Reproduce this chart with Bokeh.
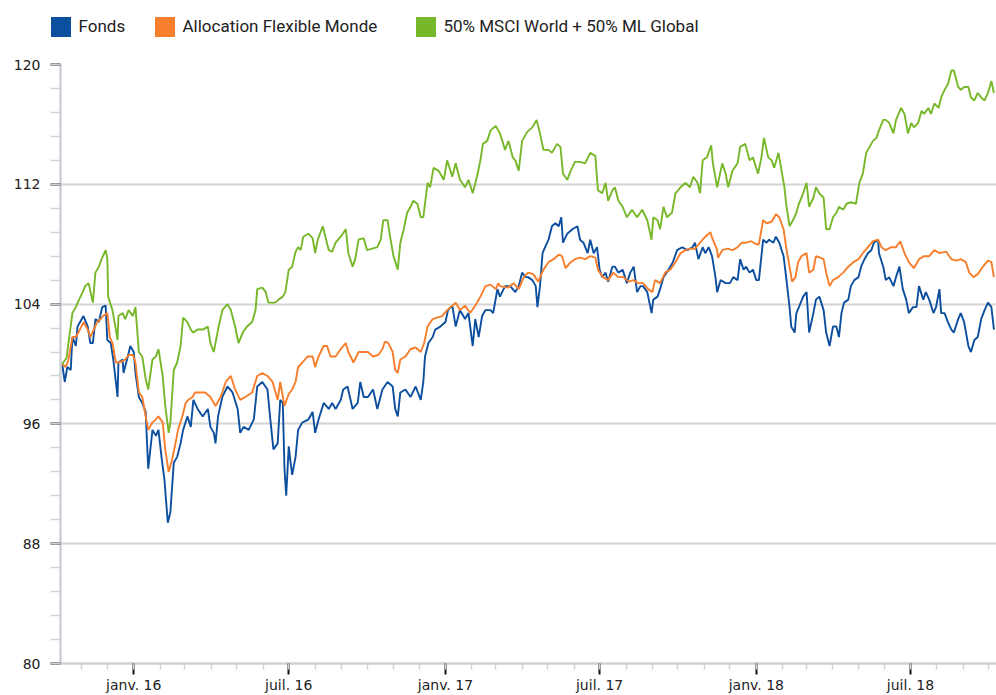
import numpy as np
import pandas as pd
from bokeh.plotting import figure
from bokeh.layouts import column
from bokeh.models import FixedTicker, Range1d, Legend, LegendItem, ColumnDataSource
from bokeh.embed import file_html
from bokeh.resources import INLINE

# ---------------- data ----------------
start_date = "2015-10-07"   # first observation (base 100)

series_names = ["Fonds", "Allocation Flexible Monde", "50% MSCI World + 50% ML Global"]
series_colors = ["#0D4F9F", "#F67E2C", "#77B72A"]

# days since start_date, and index values
fonds_days = [0, 2, 5, 8, 12, 14, 18, 20, 23, 27, 32, 35, 38, 41, 45, 49, 53, 55, 59, 62, 65, 67, 68, 73, 74, 79, 82, 86, 88, 92, 96, 100, 103, 108, 112, 115, 119, 122, 126, 129, 133, 137, 141, 144, 149, 153, 156, 161, 167, 173, 176, 180, 182, 185, 190, 196, 202, 208, 211, 215, 221, 227, 231, 237, 243, 246, 250, 255, 258, 261, 263, 265, 268, 270, 272, 276, 279, 284, 288, 291, 296, 299, 303, 309, 315, 319, 323, 329, 332, 337, 343, 349, 352, 356, 361, 367, 372, 378, 384, 390, 393, 396, 399, 405, 411, 417, 423, 426, 428, 432, 437, 440, 446, 452, 455, 460, 464, 469, 475, 479, 484, 487, 491, 495, 499, 505, 508, 513, 516, 522, 528, 534, 538, 542, 546, 549, 554, 558, 560, 563, 566, 569, 573, 577, 581, 585, 588, 590, 595, 601, 607, 610, 614, 619, 622, 626, 630, 633, 636, 640, 643, 648, 651, 655, 660, 665, 669, 673, 677, 681, 684, 689, 694, 696, 701, 704, 708, 714, 719, 724, 730, 736, 742, 745, 749, 754, 757, 761, 765, 769, 771, 775, 781, 786, 790, 795, 798, 802, 805, 809, 813, 817, 820, 825, 829, 832, 837, 840, 844, 849, 852, 856, 858, 862, 864, 867, 872, 876, 879, 884, 887, 891, 896, 899, 903, 907, 911, 914, 917, 920, 925, 928, 932, 937, 940, 944, 948, 952, 955, 960, 961, 966, 969, 973, 978, 981, 985, 989, 993, 996, 1001, 1005, 1008, 1013, 1016, 1020, 1025, 1028, 1032, 1034, 1038, 1042, 1046, 1049, 1054, 1057, 1061, 1066, 1069, 1073, 1077, 1081, 1085, 1089, 1093, 1096]
fonds_values = [100.0, 100.0, 98.8, 99.8, 99.6, 101.8, 101.2, 102.5, 102.8, 103.2, 102.5, 101.4, 101.4, 103.0, 102.8, 103.8, 103.9, 101.6, 101.4, 100.3, 98.8, 97.8, 100.1, 100.3, 99.4, 100.5, 101.2, 100.8, 99.4, 97.8, 97.4, 96.8, 93.0, 95.6, 95.2, 95.6, 93.6, 92.3, 89.4, 90.1, 93.4, 93.8, 94.7, 95.6, 96.5, 95.8, 97.6, 97.0, 96.5, 97.0, 95.8, 95.4, 94.7, 96.5, 97.8, 98.5, 98.1, 97.0, 95.4, 95.8, 95.6, 96.3, 98.5, 98.8, 98.3, 96.5, 94.3, 94.7, 97.6, 97.4, 93.0, 91.2, 94.5, 93.5, 92.6, 93.8, 95.6, 96.1, 96.2, 96.3, 96.8, 95.4, 96.3, 97.4, 97.0, 97.4, 97.0, 97.6, 98.3, 98.5, 97.0, 97.4, 98.8, 97.8, 97.8, 98.3, 97.0, 98.3, 98.8, 98.5, 97.0, 96.5, 98.1, 98.3, 97.8, 98.5, 97.6, 98.8, 100.5, 101.4, 101.8, 102.3, 102.5, 102.8, 103.6, 103.9, 102.5, 103.6, 103.0, 103.4, 101.2, 103.0, 101.8, 103.2, 103.6, 103.6, 103.4, 105.0, 104.5, 105.2, 105.2, 104.8, 105.2, 106.1, 105.8, 105.8, 105.6, 105.2, 103.8, 105.2, 107.4, 107.8, 108.3, 109.2, 109.4, 109.2, 109.8, 108.1, 108.7, 109.0, 109.2, 108.3, 108.1, 107.4, 108.3, 107.4, 107.8, 106.3, 105.8, 106.1, 105.5, 106.5, 106.5, 106.1, 106.3, 105.4, 106.1, 106.5, 104.8, 105.2, 105.2, 104.8, 103.4, 104.3, 104.5, 105.0, 105.8, 106.3, 106.8, 107.6, 107.8, 107.6, 107.8, 108.1, 107.0, 107.8, 107.4, 107.8, 107.2, 105.8, 104.8, 105.6, 105.4, 105.4, 105.8, 105.6, 107.0, 106.3, 106.5, 106.1, 106.3, 105.6, 105.6, 108.3, 108.1, 108.3, 108.1, 108.5, 108.1, 107.2, 105.8, 103.8, 102.5, 102.1, 103.4, 103.8, 104.5, 104.8, 102.1, 103.4, 104.3, 104.5, 103.6, 102.1, 101.2, 102.5, 102.5, 101.8, 103.4, 104.1, 104.3, 105.2, 105.6, 105.8, 106.5, 107.0, 107.4, 107.6, 108.1, 108.3, 107.4, 106.5, 105.6, 105.8, 105.2, 105.8, 106.5, 105.0, 104.3, 103.4, 103.8, 103.8, 105.2, 104.3, 104.8, 104.3, 103.4, 103.8, 105.0, 103.4, 103.4, 102.8, 102.3, 102.1, 103.0, 103.4, 102.8, 101.2, 100.8, 101.6, 101.8, 103.0, 103.6, 104.1, 103.8, 102.3]

alloc_days = [0, 2, 6, 9, 14, 18, 21, 27, 32, 35, 39, 43, 47, 50, 55, 58, 61, 65, 68, 73, 76, 80, 85, 88, 92, 96, 100, 103, 108, 112, 115, 120, 123, 127, 131, 135, 138, 143, 147, 150, 155, 158, 164, 170, 176, 182, 188, 194, 200, 205, 211, 217, 225, 231, 237, 243, 249, 255, 258, 263, 268, 272, 276, 279, 284, 290, 296, 299, 303, 309, 313, 317, 323, 329, 335, 338, 344, 350, 356, 361, 367, 373, 378, 381, 385, 390, 393, 396, 399, 405, 411, 417, 423, 427, 431, 437, 442, 448, 454, 460, 464, 469, 475, 481, 487, 493, 499, 505, 511, 514, 516, 525, 532, 538, 544, 549, 555, 561, 567, 573, 579, 585, 589, 593, 599, 604, 610, 616, 622, 628, 631, 637, 643, 649, 655, 661, 667, 673, 678, 684, 690, 695, 698, 704, 710, 716, 722, 728, 734, 739, 745, 751, 757, 763, 766, 771, 772, 777, 783, 789, 795, 800, 805, 811, 817, 820, 825, 829, 835, 840, 844, 849, 852, 856, 859, 863, 866, 870, 876, 879, 884, 887, 892, 896, 899, 903, 907, 913, 919, 925, 931, 937, 942, 948, 954, 960, 964, 969, 975, 981, 986, 991, 996, 1002, 1008, 1014, 1020, 1026, 1032, 1040, 1046, 1052, 1057, 1063, 1067, 1072, 1077, 1083, 1089, 1093, 1096]
alloc_values = [100.0, 100.0, 99.8, 100.2, 101.8, 101.8, 102.1, 102.8, 102.3, 101.8, 102.3, 102.8, 103.0, 103.2, 103.4, 101.8, 101.4, 100.1, 100.1, 100.2, 100.3, 100.6, 100.6, 100.1, 98.1, 97.8, 96.5, 95.6, 96.1, 96.3, 96.5, 96.1, 94.3, 92.8, 93.6, 94.7, 95.6, 96.5, 97.4, 97.6, 97.8, 98.1, 98.1, 98.1, 97.8, 97.2, 97.8, 98.8, 99.2, 98.3, 97.6, 97.8, 98.1, 99.2, 99.4, 99.2, 98.8, 97.6, 98.8, 97.2, 98.0, 98.3, 98.8, 99.8, 100.1, 100.5, 100.5, 99.8, 100.5, 101.2, 101.2, 100.5, 100.5, 101.0, 101.4, 100.8, 100.1, 100.8, 100.8, 100.8, 100.5, 100.6, 101.0, 101.5, 101.4, 100.8, 99.6, 99.4, 100.3, 100.5, 101.0, 101.1, 100.8, 101.4, 102.5, 103.0, 103.1, 103.2, 103.6, 103.9, 104.1, 103.6, 103.9, 103.4, 103.9, 104.5, 105.2, 105.3, 105.0, 105.4, 105.2, 105.1, 105.4, 105.0, 105.8, 106.1, 106.0, 105.5, 106.3, 106.8, 107.0, 107.3, 107.2, 106.4, 106.8, 107.0, 107.1, 107.0, 107.2, 107.1, 106.3, 105.8, 105.6, 106.1, 105.8, 105.8, 105.5, 105.6, 105.4, 105.4, 105.0, 104.8, 105.6, 105.4, 106.1, 106.3, 106.8, 107.4, 107.6, 107.7, 107.7, 108.1, 108.5, 108.8, 108.3, 107.6, 107.1, 107.6, 107.7, 107.6, 107.8, 108.1, 108.1, 108.2, 108.0, 108.0, 109.6, 109.4, 109.5, 110.0, 109.8, 109.0, 107.8, 106.5, 105.5, 105.8, 106.8, 107.2, 107.4, 106.1, 106.3, 107.2, 107.1, 107.0, 106.1, 105.2, 105.6, 105.8, 106.1, 106.5, 106.8, 107.0, 107.4, 107.8, 108.2, 108.3, 107.8, 107.6, 107.8, 107.8, 108.2, 107.4, 106.8, 106.4, 107.0, 107.2, 107.2, 107.6, 107.4, 107.5, 107.0, 106.9, 107.0, 106.8, 106.1, 105.8, 106.0, 106.5, 106.9, 106.8, 105.8]

bench_days = [0, 2, 7, 14, 18, 21, 26, 29, 33, 38, 41, 45, 49, 53, 55, 56, 61, 65, 67, 68, 73, 76, 80, 85, 88, 92, 96, 100, 103, 108, 112, 115, 120, 123, 127, 129, 133, 137, 141, 144, 149, 153, 156, 161, 167, 173, 176, 180, 185, 190, 196, 200, 205, 209, 214, 219, 225, 229, 231, 237, 241, 244, 249, 252, 256, 261, 264, 268, 272, 276, 279, 282, 285, 291, 296, 299, 302, 308, 311, 315, 319, 323, 329, 335, 338, 343, 346, 350, 356, 360, 366, 372, 376, 379, 384, 387, 391, 396, 399, 403, 407, 411, 414, 419, 423, 426, 431, 434, 438, 444, 450, 454, 460, 464, 469, 475, 479, 484, 489, 493, 496, 501, 505, 511, 516, 522, 526, 531, 534, 538, 542, 548, 554, 559, 563, 567, 573, 577, 583, 587, 590, 595, 599, 604, 610, 616, 622, 628, 631, 636, 640, 643, 648, 651, 655, 660, 665, 671, 677, 683, 689, 694, 696, 701, 704, 708, 712, 718, 722, 728, 734, 739, 743, 748, 751, 754, 759, 764, 766, 771, 777, 781, 784, 789, 795, 798, 804, 809, 813, 819, 823, 826, 831, 835, 838, 843, 846, 850, 852, 856, 860, 864, 867, 872, 876, 879, 884, 887, 891, 896, 899, 903, 907, 911, 914, 919, 923, 928, 934, 938, 942, 946, 950, 954, 958, 961, 966, 969, 973, 978, 981, 987, 991, 995, 999, 1002, 1007, 1011, 1014, 1019, 1022, 1026, 1031, 1034, 1038, 1042, 1046, 1049, 1054, 1057, 1061, 1066, 1069, 1073, 1077, 1081, 1085, 1089, 1093, 1096]
bench_values = [100.0, 100.0, 100.4, 103.4, 103.8, 104.2, 104.8, 105.2, 105.4, 104.1, 106.1, 106.5, 107.1, 107.6, 107.0, 104.5, 103.6, 102.3, 101.6, 103.2, 103.4, 103.0, 103.6, 103.2, 103.8, 100.8, 100.5, 99.0, 98.3, 100.3, 100.5, 101.0, 99.2, 97.2, 95.4, 96.1, 99.6, 100.1, 101.2, 103.1, 102.8, 102.3, 102.1, 102.3, 102.3, 102.5, 101.4, 100.8, 102.3, 103.6, 104.0, 103.6, 102.5, 101.4, 102.1, 102.5, 102.8, 103.6, 105.0, 105.1, 104.8, 104.1, 104.1, 104.1, 104.3, 104.5, 104.8, 106.3, 106.5, 107.5, 107.8, 107.6, 108.5, 108.7, 108.4, 107.4, 108.3, 109.2, 108.5, 107.6, 107.5, 108.1, 108.5, 109.0, 107.4, 106.5, 107.0, 108.3, 108.4, 107.6, 107.7, 107.8, 108.3, 109.6, 109.6, 108.5, 107.2, 106.3, 108.1, 109.0, 110.1, 110.5, 110.9, 110.7, 109.8, 109.8, 112.1, 111.8, 113.1, 112.9, 112.3, 113.6, 112.5, 113.4, 112.3, 111.8, 112.3, 111.4, 112.5, 113.6, 114.7, 114.9, 115.6, 115.9, 115.4, 114.3, 114.9, 113.8, 113.6, 112.9, 114.9, 115.5, 115.8, 116.3, 115.4, 114.3, 114.3, 114.1, 114.7, 114.5, 112.7, 112.3, 112.9, 113.5, 113.5, 113.4, 114.1, 113.9, 111.6, 111.4, 112.1, 110.9, 111.6, 111.8, 110.9, 110.5, 109.8, 110.3, 109.8, 110.3, 109.6, 108.3, 109.8, 109.6, 109.0, 110.5, 109.8, 110.1, 111.4, 111.8, 112.1, 111.8, 112.5, 112.1, 111.4, 113.6, 113.8, 114.6, 113.4, 111.8, 113.4, 112.7, 111.8, 112.9, 113.4, 114.5, 114.7, 113.6, 113.8, 112.7, 113.8, 115.1, 113.8, 113.6, 113.1, 114.1, 113.1, 111.8, 110.7, 109.2, 109.6, 110.1, 110.7, 111.4, 112.1, 110.5, 111.1, 111.8, 111.4, 111.1, 109.0, 109.0, 109.8, 110.1, 110.5, 110.3, 110.7, 110.8, 110.7, 112.1, 112.7, 114.1, 114.5, 114.9, 115.1, 115.6, 116.3, 116.3, 116.1, 115.4, 116.3, 117.1, 116.7, 115.4, 116.1, 115.8, 116.1, 116.9, 116.7, 117.1, 116.7, 117.4, 117.1, 117.8, 118.3, 118.7, 119.6, 119.6, 118.5, 118.3, 118.5, 118.5, 117.8, 117.6, 118.1, 117.8, 117.6, 118.1, 118.9, 118.1]

y_ticks = [80, 88, 96, 104, 112, 120]
x_tick_dates = ["2016-01-01", "2016-07-01", "2017-01-01", "2017-07-01", "2018-01-01", "2018-07-01"]
x_tick_labels = ["janv. 16", "juil. 16", "janv. 17", "juil. 17", "janv. 18", "juil. 18"]

# ---------------- helpers ----------------
start = pd.Timestamp(start_date)

def to_dates(days):
    return start + pd.to_timedelta(days, unit="D")

def to_ms(ts):
    return float(pd.Timestamp(ts).value // 10**6)

# ---------------- legend strip ----------------
leg_fig = figure(width=996, height=56, output_backend="svg", toolbar_location=None,
                 x_axis_location=None, y_axis_location=None,
                 min_border_left=0, min_border_right=0, min_border_top=0, min_border_bottom=0,
                 x_range=Range1d(0, 1), y_range=Range1d(0, 1))
leg_fig.frame_align = False
leg_fig.outline_line_color = None
leg_fig.xgrid.visible = False
leg_fig.ygrid.visible = False
leg_fig.border_fill_color = "white"
leg_fig.background_fill_color = "white"

legend_x = [47.5, 151.5, 412.5]
for name, col, lx in zip(series_names, series_colors, legend_x):
    # legend-only swatch renderer (no visible data point)
    src = ColumnDataSource(dict(left=[np.nan], right=[np.nan], top=[np.nan], bottom=[np.nan]))
    r = leg_fig.quad(left="left", right="right", top="top", bottom="bottom", source=src,
                     fill_color=col, line_color=None)
    leg = Legend(items=[LegendItem(label=name, renderers=[r])],
                 location=(lx, 17.5), orientation="horizontal",
                 glyph_width=25, glyph_height=25, label_standoff=6,
                 label_height=25, padding=0, margin=0, spacing=0,
                 border_line_color=None, background_fill_alpha=0,
                 label_text_font="Roboto", label_text_font_size="17px",
                 label_text_color="#222222")
    leg_fig.add_layout(leg, "center")

# ---------------- main chart ----------------
p = figure(width=996, height=639, x_axis_type="datetime",
           output_backend="svg", toolbar_location=None,
           min_border_left=60, min_border_right=0,
           min_border_top=8, min_border_bottom=30)
p.frame_align = False
p.x_range = Range1d(start, start + pd.Timedelta(days=1099))
p.y_range = Range1d(80, 120)
p.outline_line_color = None
p.background_fill_color = "white"
p.border_fill_color = "white"

# y axis
p.yaxis.ticker = FixedTicker(ticks=y_ticks, minor_ticks=list(np.arange(80, 120.001, 1.6)))
p.yaxis.axis_line_color = "#cdd1d6"
p.yaxis.axis_line_width = 2.5
p.yaxis.major_tick_line_color = "#111111"
p.yaxis.major_tick_line_width = 2
p.yaxis.major_tick_out = 10
p.yaxis.major_tick_in = 0
p.yaxis.minor_tick_line_color = "#cfd3d8"
p.yaxis.minor_tick_line_width = 1.5
p.yaxis.minor_tick_out = 10
p.yaxis.minor_tick_in = 0
p.yaxis.major_label_standoff = 10
p.yaxis.major_label_text_font = "DejaVu Sans"
p.yaxis.major_label_text_font_size = "14px"
p.yaxis.major_label_text_color = "#222222"

# x axis
major_ms = [to_ms(d) for d in x_tick_dates]
minor_ms = [to_ms(d) for d in pd.date_range("2015-11-01", "2018-10-01", freq="MS")]
p.xaxis.ticker = FixedTicker(ticks=major_ms, minor_ticks=minor_ms)
p.xaxis.major_label_overrides = {m: lab for m, lab in zip(major_ms, x_tick_labels)}
p.xaxis.axis_line_color = "#cdd1d6"
p.xaxis.axis_line_width = 2.5
p.xaxis.major_tick_line_color = "#111111"
p.xaxis.major_tick_line_width = 2
p.xaxis.major_tick_out = 11
p.xaxis.major_tick_in = 0
p.xaxis.minor_tick_line_color = "#cfd3d8"
p.xaxis.minor_tick_line_width = 1.5
p.xaxis.minor_tick_out = 6
p.xaxis.minor_tick_in = 0
p.xaxis.major_label_standoff = 2
p.xaxis.major_label_text_font = "DejaVu Sans"
p.xaxis.major_label_text_font_size = "14px"
p.xaxis.major_label_text_color = "#222222"

# grids
p.xgrid.visible = False
p.ygrid.grid_line_color = "#d4d4d4"
p.ygrid.grid_line_width = 2

# lines
all_days = [fonds_days, alloc_days, bench_days]
all_vals = [fonds_values, alloc_values, bench_values]
for days, vals, col in zip(all_days, all_vals, series_colors):
    p.line(x=to_dates(days), y=vals, line_color=col, line_width=1.9)

layout = column(leg_fig, p, spacing=0)
open("out.html", "w").write(file_html(layout, INLINE))
